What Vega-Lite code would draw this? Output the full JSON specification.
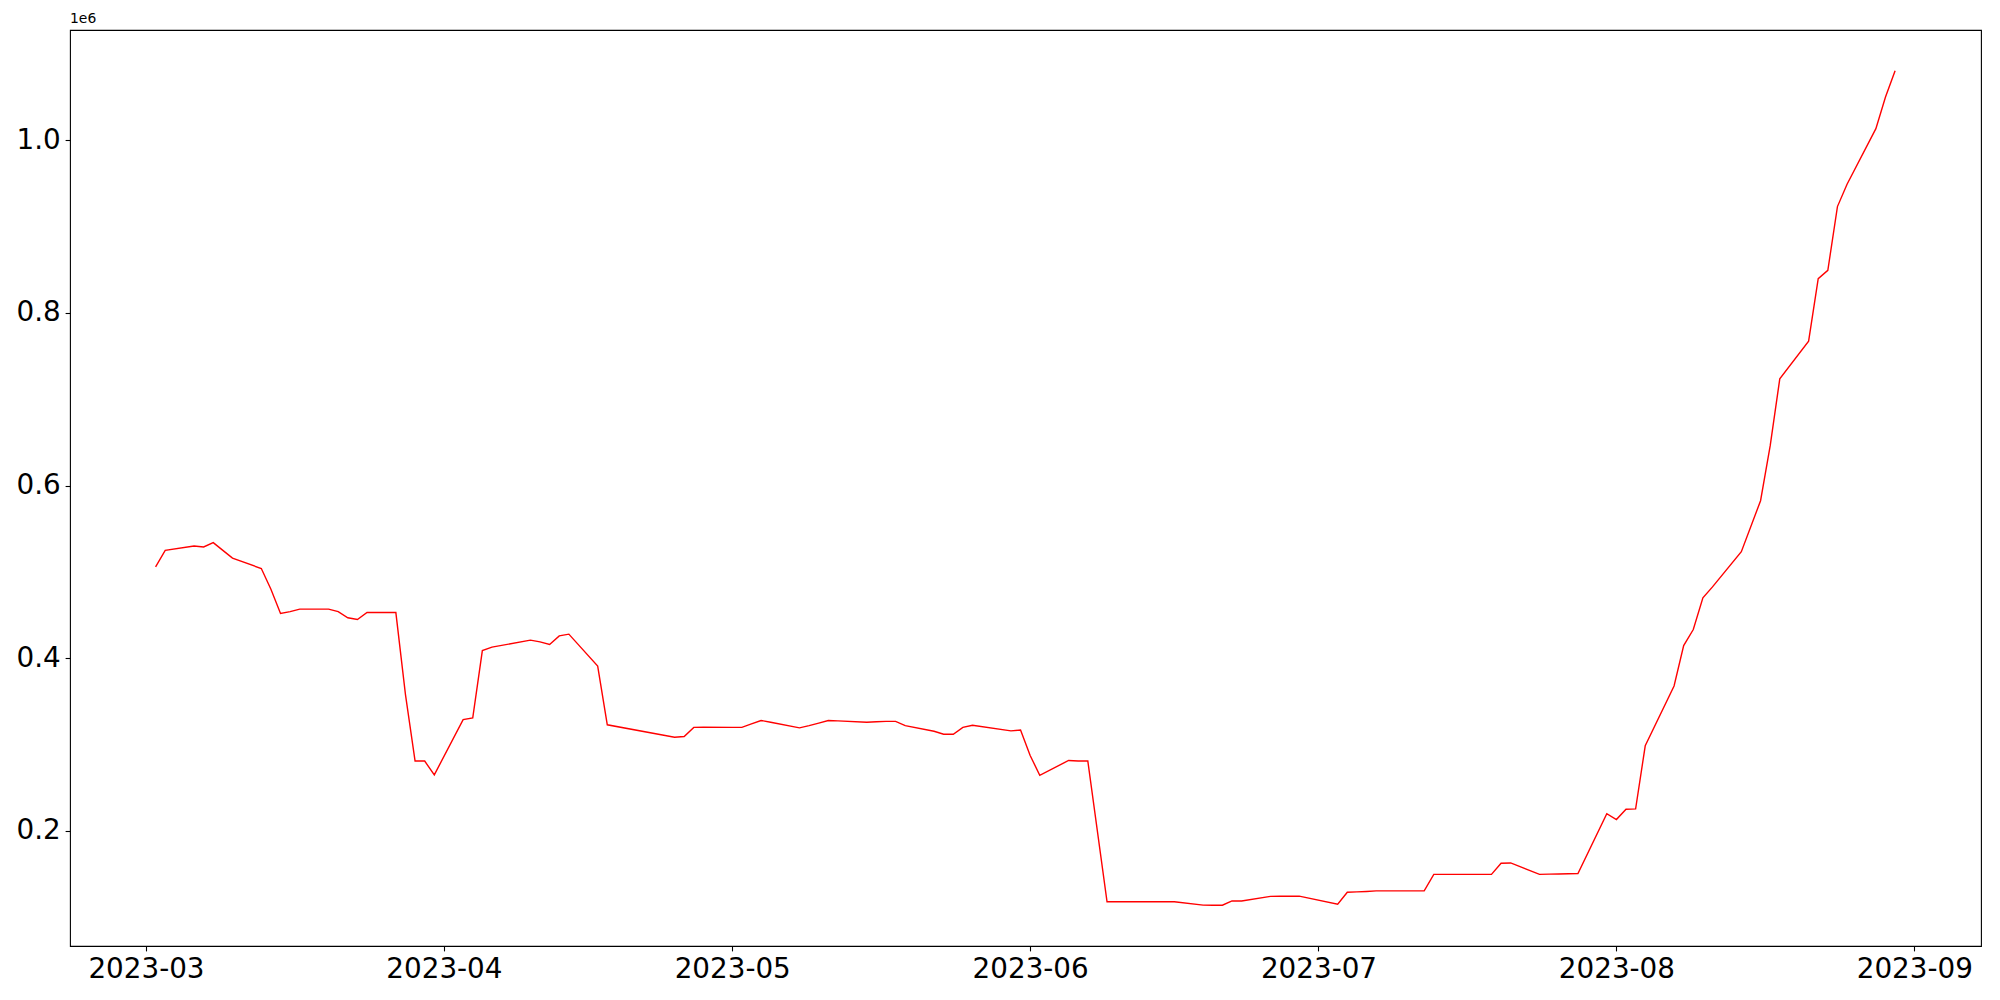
{
  "$schema": "https://vega.github.io/schema/vega-lite/v6.json",
  "width": 1911,
  "height": 916,
  "autosize": {"type": "none"},
  "padding": {"left": 70, "top": 30, "right": 19, "bottom": 54},
  "background": "white",
  "title": {"text": "1e6", "anchor": "start", "frame": "group", "fontSize": 13.9, "font": "DejaVu Sans", "fontWeight": "normal", "color": "black", "offset": 4},
  "config": {
    "view": {"stroke": "black", "strokeWidth": 1.1},
    "axis": {"grid": false, "domain": false, "tickColor": "black", "tickSize": 4.9, "tickWidth": 1.1, "labelColor": "black", "labelFont": "DejaVu Sans", "labelFontSize": 27.8, "labelPadding": 4.9, "title": null}
  },
  "data": {"values": [
    {"date": "2023-03-02", "value": 506000},
    {"date": "2023-03-03", "value": 525000},
    {"date": "2023-03-06", "value": 530000},
    {"date": "2023-03-07", "value": 529000},
    {"date": "2023-03-08", "value": 534000},
    {"date": "2023-03-09", "value": 525000},
    {"date": "2023-03-10", "value": 516000},
    {"date": "2023-03-13", "value": 504000},
    {"date": "2023-03-14", "value": 480000},
    {"date": "2023-03-15", "value": 452000},
    {"date": "2023-03-16", "value": 454000},
    {"date": "2023-03-17", "value": 457000},
    {"date": "2023-03-20", "value": 457000},
    {"date": "2023-03-21", "value": 454000},
    {"date": "2023-03-22", "value": 447000},
    {"date": "2023-03-23", "value": 445000},
    {"date": "2023-03-24", "value": 453000},
    {"date": "2023-03-27", "value": 453000},
    {"date": "2023-03-28", "value": 358000},
    {"date": "2023-03-29", "value": 281000},
    {"date": "2023-03-30", "value": 281000},
    {"date": "2023-03-31", "value": 265000},
    {"date": "2023-04-03", "value": 329000},
    {"date": "2023-04-04", "value": 331000},
    {"date": "2023-04-05", "value": 409000},
    {"date": "2023-04-06", "value": 413000},
    {"date": "2023-04-10", "value": 421000},
    {"date": "2023-04-11", "value": 419000},
    {"date": "2023-04-12", "value": 416000},
    {"date": "2023-04-13", "value": 426000},
    {"date": "2023-04-14", "value": 428000},
    {"date": "2023-04-17", "value": 391000},
    {"date": "2023-04-18", "value": 323000},
    {"date": "2023-04-25", "value": 308600},
    {"date": "2023-04-26", "value": 309400},
    {"date": "2023-04-27", "value": 320000},
    {"date": "2023-04-28", "value": 320200},
    {"date": "2023-05-01", "value": 320000},
    {"date": "2023-05-02", "value": 320000},
    {"date": "2023-05-03", "value": 324000},
    {"date": "2023-05-04", "value": 328000},
    {"date": "2023-05-05", "value": 326000},
    {"date": "2023-05-08", "value": 319500},
    {"date": "2023-05-09", "value": 322000},
    {"date": "2023-05-10", "value": 325000},
    {"date": "2023-05-11", "value": 328000},
    {"date": "2023-05-12", "value": 327500},
    {"date": "2023-05-15", "value": 326000},
    {"date": "2023-05-16", "value": 326500},
    {"date": "2023-05-17", "value": 327000},
    {"date": "2023-05-18", "value": 327000},
    {"date": "2023-05-19", "value": 322000},
    {"date": "2023-05-22", "value": 315500},
    {"date": "2023-05-23", "value": 312000},
    {"date": "2023-05-24", "value": 312000},
    {"date": "2023-05-25", "value": 320000},
    {"date": "2023-05-26", "value": 322500},
    {"date": "2023-05-30", "value": 316000},
    {"date": "2023-05-31", "value": 317000},
    {"date": "2023-06-01", "value": 287500},
    {"date": "2023-06-02", "value": 264500},
    {"date": "2023-06-05", "value": 281700},
    {"date": "2023-06-06", "value": 281000},
    {"date": "2023-06-07", "value": 281000},
    {"date": "2023-06-09", "value": 118000},
    {"date": "2023-06-12", "value": 118000},
    {"date": "2023-06-13", "value": 118000},
    {"date": "2023-06-14", "value": 118000},
    {"date": "2023-06-15", "value": 118000},
    {"date": "2023-06-16", "value": 118000},
    {"date": "2023-06-19", "value": 114100},
    {"date": "2023-06-20", "value": 114000},
    {"date": "2023-06-21", "value": 114000},
    {"date": "2023-06-22", "value": 119000},
    {"date": "2023-06-23", "value": 119000},
    {"date": "2023-06-26", "value": 124300},
    {"date": "2023-06-27", "value": 124400},
    {"date": "2023-06-28", "value": 124500},
    {"date": "2023-06-29", "value": 124500},
    {"date": "2023-07-03", "value": 115100},
    {"date": "2023-07-04", "value": 129000},
    {"date": "2023-07-05", "value": 129500},
    {"date": "2023-07-06", "value": 130000},
    {"date": "2023-07-07", "value": 130600},
    {"date": "2023-07-10", "value": 130600},
    {"date": "2023-07-11", "value": 130600},
    {"date": "2023-07-12", "value": 130600},
    {"date": "2023-07-13", "value": 149800},
    {"date": "2023-07-14", "value": 149800},
    {"date": "2023-07-17", "value": 149800},
    {"date": "2023-07-18", "value": 149800},
    {"date": "2023-07-19", "value": 149800},
    {"date": "2023-07-20", "value": 162600},
    {"date": "2023-07-21", "value": 163000},
    {"date": "2023-07-24", "value": 149800},
    {"date": "2023-07-25", "value": 150000},
    {"date": "2023-07-26", "value": 150200},
    {"date": "2023-07-27", "value": 150400},
    {"date": "2023-07-28", "value": 150600},
    {"date": "2023-07-31", "value": 220100},
    {"date": "2023-08-01", "value": 213200},
    {"date": "2023-08-02", "value": 225200},
    {"date": "2023-08-03", "value": 225600},
    {"date": "2023-08-04", "value": 298700},
    {"date": "2023-08-07", "value": 368000},
    {"date": "2023-08-08", "value": 414800},
    {"date": "2023-08-09", "value": 433300},
    {"date": "2023-08-10", "value": 470000},
    {"date": "2023-08-11", "value": 482700},
    {"date": "2023-08-14", "value": 523400},
    {"date": "2023-08-16", "value": 582500},
    {"date": "2023-08-17", "value": 646000},
    {"date": "2023-08-18", "value": 723700},
    {"date": "2023-08-21", "value": 767300},
    {"date": "2023-08-22", "value": 839700},
    {"date": "2023-08-23", "value": 849300},
    {"date": "2023-08-24", "value": 923200},
    {"date": "2023-08-25", "value": 949000},
    {"date": "2023-08-28", "value": 1013400},
    {"date": "2023-08-29", "value": 1050000},
    {"date": "2023-08-30", "value": 1080600}
  ]},
  "mark": {"type": "line", "color": "#ff0000", "strokeWidth": 1.4, "clip": true},
  "encoding": {
    "x": {
      "field": "date",
      "type": "temporal",
      "scale": {"type": "utc", "domain": [
        {"year": 2023, "month": 2, "date": 21, "hours": 2, "minutes": 15, "utc": true},
        {"year": 2023, "month": 9, "date": 7, "hours": 22, "minutes": 30, "utc": true}
      ]},
      "axis": {
        "values": [
          {"year": 2023, "month": 3, "date": 1, "utc": true},
          {"year": 2023, "month": 4, "date": 1, "utc": true},
          {"year": 2023, "month": 5, "date": 1, "utc": true},
          {"year": 2023, "month": 6, "date": 1, "utc": true},
          {"year": 2023, "month": 7, "date": 1, "utc": true},
          {"year": 2023, "month": 8, "date": 1, "utc": true},
          {"year": 2023, "month": 9, "date": 1, "utc": true}
        ],
        "labelExpr": "utcFormat(datum.value, '%Y-%m')",
        "labelOverlap": false,
        "labelFlush": false
      }
    },
    "y": {
      "field": "value",
      "type": "quantitative",
      "scale": {"domain": [66800, 1127700], "nice": false, "zero": false},
      "axis": {
        "values": [200000, 400000, 600000, 800000, 1000000],
        "labelExpr": "format(datum.value / 1000000, '.1f')",
        "labelOverlap": false,
        "labelFlush": false
      }
    }
  }
}
